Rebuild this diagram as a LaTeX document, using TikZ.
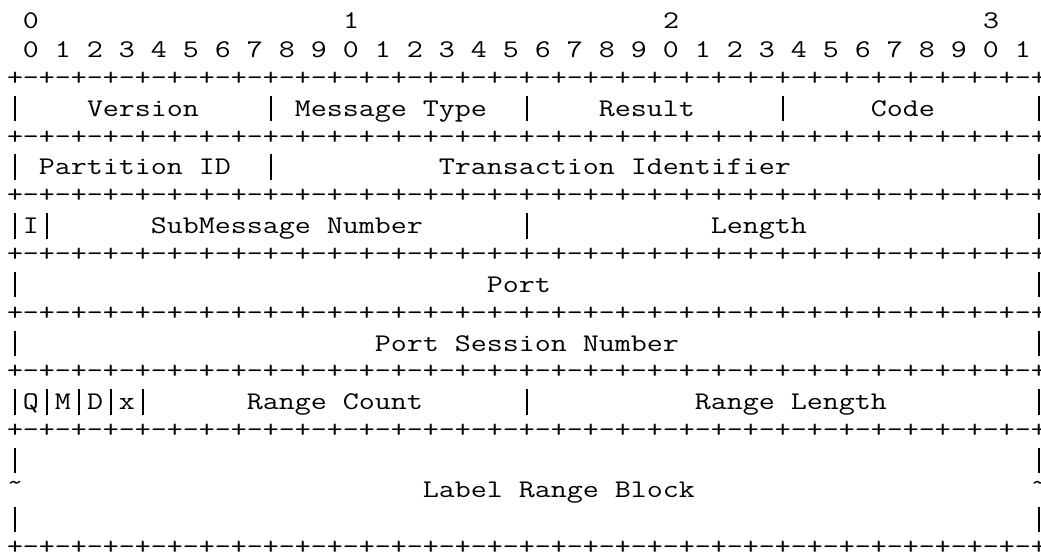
\documentclass[tikz,border=0pt]{standalone}
\usepackage{graphicx}
\newlength\chw
\newcommand\rfcfont{\ttfamily\fontsize{25.4pt}{29.34pt}\selectfont}
\newcommand\blank[1]{\hspace*{#1\chw}}
\newcommand\vb{\makebox[\chw][c]{\rule[-5pt]{0.85pt}{25.5pt}}}
\newcommand\tld{\makebox[\chw][c]{\raisebox{7.5pt}{\textasciitilde}}}
\newcommand\mline[1]{\scalebox{\fx}[1]{#1}}
\newcommand\rowy[1]{528.7-29.34*#1}
\tikzset{
  row/.style={anchor=base west, inner sep=0pt, outer sep=0pt, text=black, font=\rfcfont},
}
\AtBeginDocument{%
  \settowidth{\chw}{\rfcfont 0}%
  \pgfmathsetmacro\fx{16/(\the\chw)}%
}
\begin{document}
\begin{tikzpicture}[x=1pt,y=1pt]
\useasboundingbox (0,0) rectangle (1041,557);
% bit numbering
\node[row] (t0) at (7+16*1, {\rowy{0}}) {\mline{0}};
\node[row] (t1) at (7+16*21, {\rowy{0}}) {\mline{1}};
\node[row] (t2) at (7+16*41, {\rowy{0}}) {\mline{2}};
\node[row] (t3) at (7+16*61, {\rowy{0}}) {\mline{3}};
\node[row] (bits) at (7+16*1, {\rowy{1}}) {\mline{0 1 2 3 4 5 6 7 8 9 0 1 2 3 4 5 6 7 8 9 0 1 2 3 4 5 6 7 8 9 0 1}};
% borders
\foreach \k in {2,4,6,8,10,12,14,18}{
  \node[row] (b\k) at (7, {\rowy{\k}+1.5}) {\mline{+-+-+-+-+-+-+-+-+-+-+-+-+-+-+-+-+-+-+-+-+-+-+-+-+-+-+-+-+-+-+-+-+}};
}
% fields
\node[row] (r3) at (7, {\rowy{3}}) {\mline{\vb\blank{4}Version\blank{4}\vb\blank{1}Message\blank{1}Type\blank{2}\vb\blank{4}Result\blank{5}\vb\blank{5}Code\blank{6}\vb}};
\node[row] (r5) at (7, {\rowy{5}}) {\mline{\vb\blank{1}Partition\blank{1}ID\blank{2}\vb\blank{10}Transaction\blank{1}Identifier\blank{15}\vb}};
\node[row] (r7) at (7, {\rowy{7}}) {\mline{\vb I\vb\blank{6}SubMessage\blank{1}Number\blank{6}\vb\blank{11}Length\blank{14}\vb}};
\node[row] (r9) at (7, {\rowy{9}}) {\mline{\vb\blank{29}Port\blank{30}\vb}};
\node[row] (r11) at (7, {\rowy{11}}) {\mline{\vb\blank{22}Port\blank{1}Session\blank{1}Number\blank{22}\vb}};
\node[row] (r13) at (7, {\rowy{13}}) {\mline{\vb Q\vb M\vb D\vb x\vb\blank{6}Range\blank{1}Count\blank{6}\vb\blank{10}Range\blank{1}Length\blank{9}\vb}};
\node[row] (r15) at (7, {\rowy{15}}) {\mline{\vb\blank{63}\vb}};
\node[row] (r16) at (7, {\rowy{16}}) {\mline{\tld\blank{25}Label\blank{1}Range\blank{1}Block\blank{21}\tld}};
\node[row] (r17) at (7, {\rowy{17}}) {\mline{\vb\blank{63}\vb}};
\end{tikzpicture}
\end{document}
